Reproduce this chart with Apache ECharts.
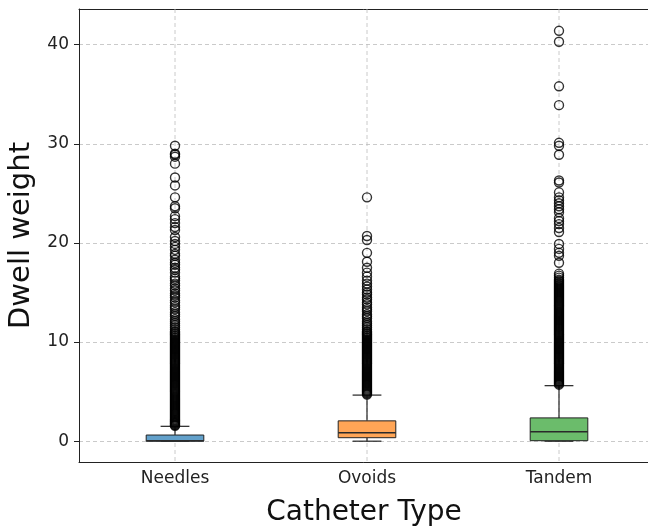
<!DOCTYPE html>
<html>
<head>
<meta charset="utf-8">
<script src="https://cdn.jsdelivr.net/npm/echarts@6/dist/echarts.min.js"></script>
<style>html,body{margin:0;padding:0;background:#fff}#chart{width:648px;height:527px}</style>
</head>
<body>
<div id="chart"></div>
<script>
// ---- data ----
const categories = ['Needles', 'Ovoids', 'Tandem'];
// [lower whisker, Q1, median, Q3, upper whisker]
const needlesBox = [0.0, 0.0, 0.05, 0.62, 1.5];
const ovoidsBox  = [0.0, 0.35, 0.85, 2.05, 4.65];
const tandemBox  = [0.0, 0.05, 0.95, 2.35, 5.6];

const needlesOutliers = [
  1.55,1.62,1.7,1.78,1.86,1.95,2.03,2.12,2.2,2.3,2.4,2.5,2.6,2.7,2.8,2.9,3.0,3.1,3.2,3.3,3.4,3.5,3.6,3.7,3.8,3.9,
  4.0,4.1,4.2,4.3,4.4,4.5,4.6,4.7,4.8,4.9,5.0,5.1,5.2,5.3,5.4,5.5,5.6,5.7,5.8,5.9,6.0,6.1,6.2,6.3,6.4,6.5,6.6,6.7,
  6.8,6.9,7.0,7.1,7.2,7.3,7.4,7.5,7.6,7.7,7.8,7.9,8.0,8.1,8.2,8.3,8.4,8.5,8.6,8.7,8.8,8.9,9.0,9.1,9.2,9.3,9.4,9.5,
  9.6,9.7,9.8,9.9,10.0,10.1,10.2,10.3,10.4,10.5,10.6,10.7,10.8,10.9,11.0,11.1,
  11.3,11.5,11.7,11.9,12.1,12.3,12.6,12.8,13.0,13.3,13.5,13.7,14.0,14.2,14.5,14.7,14.9,15.2,15.4,15.7,15.9,16.2,16.4,16.6,
  17.0,17.3,17.5,17.8,18.0,18.3,18.7,18.9,19.3,19.6,19.9,20.2,20.6,
  21.3,21.6,22.0,22.4,22.7,23.5,23.7,24.6,25.8,26.6,28.0,28.7,28.9,29.0,29.8
];
const ovoidsOutliers = [
  4.7,4.8,4.9,5.0,5.1,5.2,5.3,5.4,5.5,5.6,5.7,5.8,5.9,6.0,6.1,6.2,6.3,6.4,6.5,6.6,6.7,6.8,6.9,7.0,7.1,7.2,7.3,7.4,
  7.5,7.6,7.7,7.8,7.9,8.0,8.1,8.2,8.3,8.4,8.5,8.6,8.7,8.8,8.9,9.0,9.1,9.2,9.3,9.4,9.5,9.6,9.7,9.8,9.9,10.0,10.1,10.2,
  10.3,10.4,10.5,10.6,10.7,10.8,10.9,11.0,11.1,
  11.3,11.5,11.7,11.9,12.1,12.4,12.6,12.8,13.1,13.3,13.5,13.8,14.0,14.3,14.5,14.8,15.0,15.3,15.6,15.9,16.2,16.6,17.0,17.5,
  18.1,19.0,20.3,20.7,24.6
];
const tandemOutliers = [
  5.7,5.8,5.9,6.0,6.1,6.2,6.3,6.4,6.5,6.6,6.7,6.8,6.9,7.0,7.1,7.2,7.3,7.4,7.5,7.6,7.7,7.8,7.9,8.0,8.1,8.2,8.3,8.4,
  8.5,8.6,8.7,8.8,8.9,9.0,9.1,9.2,9.3,9.4,9.5,9.6,9.7,9.8,9.9,10.0,10.1,10.2,10.3,10.4,10.5,10.6,10.7,10.8,10.9,11.0,
  11.1,11.2,11.3,11.4,11.5,11.6,11.7,11.8,11.9,12.0,12.1,12.2,12.3,12.4,12.5,12.6,12.7,12.8,12.9,13.0,13.1,13.2,13.3,
  13.4,13.5,13.6,13.7,13.8,13.9,14.0,14.1,14.2,14.3,14.4,14.5,14.6,14.7,14.8,14.9,15.0,15.1,15.2,15.3,15.4,15.5,15.6,
  15.7,15.8,15.9,16.0,16.1,16.2,16.3,16.5,16.7,16.9,
  18.0,18.7,19.0,19.4,19.9,21.1,21.5,21.9,22.2,22.5,23.1,23.4,23.7,24.0,24.3,24.6,25.1,26.1,26.3,
  28.9,29.8,30.1,33.9,35.8,40.3,41.4
];
const yTicks = [0, 10, 20, 30, 40];
const yMin = -2.1, yMax = 43.6;

// ---- styles ----
const boxColors = ['#62a0ca', '#ffa556', '#6bbc6b'];
const FONT = 'DejaVu Sans';

const boxes = [needlesBox, ovoidsBox, tandemBox];
const boxData = boxes.map((b, i) => [i].concat(b));
const outlierSets = [needlesOutliers, ovoidsOutliers, tandemOutliers];
const scatterData = [];
outlierSets.forEach((arr, i) => arr.forEach(v => scatterData.push([i, v])));

const chart = echarts.init(document.getElementById('chart'), null, {renderer: 'canvas'});
chart.setOption({
  animation: false,
  backgroundColor: '#fff',
  grid: {left: 79, top: 9, width: 576, height: 453, outerBoundsMode: 'none', containLabel: false, show: false},
  xAxis: [{
    type: 'category', data: categories,
    name: 'Catheter Type', nameLocation: 'middle', nameGap: 37,
    nameTextStyle: {fontFamily: FONT, fontSize: 28, color: '#111', padding: [0, 6, 0, 0]},
    axisLine: {onZero: false, lineStyle: {color: '#222', width: 1}},
    axisTick: {alignWithLabel: true, length: 5, lineStyle: {color: '#222'}},
    axisLabel: {fontFamily: FONT, fontSize: 17, color: '#222', margin: 8},
    splitLine: {show: false}
  }, {
    type: 'category', data: categories, position: 'top',
    axisLine: {show: true, onZero: false, lineStyle: {color: '#222', width: 1}},
    axisTick: {show: false}, axisLabel: {show: false}, splitLine: {show: false}
  }],
  yAxis: {
    type: 'value', min: yMin, max: yMax,
    name: 'Dwell weight', nameLocation: 'middle', nameGap: 36,
    nameTextStyle: {fontFamily: FONT, fontSize: 29, color: '#111'},
    axisLine: {show: true, onZero: false, lineStyle: {color: '#222', width: 1}},
    axisTick: {show: true, length: 5, customValues: yTicks, lineStyle: {color: '#222'}},
    axisLabel: {fontFamily: FONT, fontSize: 17, color: '#222', margin: 10, customValues: yTicks},
    splitLine: {show: true, lineStyle: {color: '#bdbdbd', type: [4, 3], width: 0.8}}
  },
  series: [
    {
      type: 'custom', z: 2, clip: false,
      data: boxData,
      encode: {x: 0, y: [1, 2, 3, 4, 5]},
      renderItem: function (params, api) {
        const i = api.value(0);
        const c = (v) => api.coord([i, v]);
        const lo = c(api.value(1)), q1 = c(api.value(2)), md = c(api.value(3)), q3 = c(api.value(4)), hi = c(api.value(5));
        const top = c(yMax), bot = c(yMin);
        const band = api.size([1, 0])[0];
        const hw = band * 0.15, cw = band * 0.075;
        const x = lo[0];
        const stroke = {stroke: '#222', lineWidth: 1.2};
        return {
          type: 'group',
          children: [
            {type: 'line', z2: 0, shape: {x1: x, y1: top[1], x2: x, y2: bot[1]},
              style: {stroke: '#bdbdbd', lineWidth: 0.8, lineDash: [4, 3]}},
            {type: 'line', z2: 1, shape: {x1: x, y1: q3[1], x2: x, y2: hi[1]}, style: stroke},
            {type: 'line', z2: 1, shape: {x1: x, y1: q1[1], x2: x, y2: lo[1]}, style: stroke},
            {type: 'line', z2: 1, shape: {x1: x - cw, y1: hi[1], x2: x + cw, y2: hi[1]}, style: stroke},
            {type: 'line', z2: 1, shape: {x1: x - cw, y1: lo[1], x2: x + cw, y2: lo[1]}, style: stroke},
            {type: 'rect', z2: 2, shape: {x: x - hw, y: q3[1], width: 2 * hw, height: q1[1] - q3[1]},
              style: {fill: boxColors[i], stroke: '#222', lineWidth: 1}},
            {type: 'line', z2: 3, shape: {x1: x - hw, y1: md[1], x2: x + hw, y2: md[1]}, style: {stroke: '#2a2a2a', lineWidth: 1.6}}
          ]
        };
      }
    },
    {
      type: 'scatter', z: 3,
      data: scatterData,
      symbol: 'circle', symbolSize: 9,
      itemStyle: {color: 'rgba(0,0,0,0)', borderColor: '#000', borderWidth: 1.4}
    }
  ]
});
</script>
</body>
</html>
